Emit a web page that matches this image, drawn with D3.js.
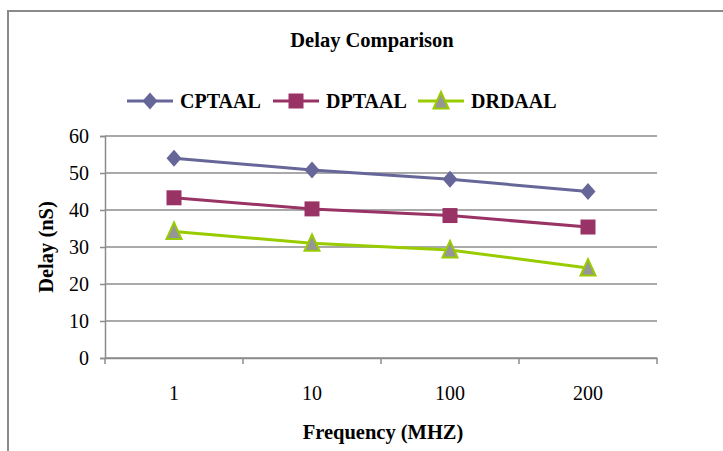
<!DOCTYPE html>
<html>
<head>
<meta charset="utf-8">
<script src="https://cdn.jsdelivr.net/npm/d3@7"></script>
<style>
  body { margin: 0; background: #fff; }
  text { font-family: "Liberation Serif", "Times New Roman", serif; fill: #000; }
</style>
</head>
<body>
<svg width="723" height="451" id="mainsvg"></svg>
<script>
const categories = ['1', '10', '100', '200'];
const cptaal = [54.0, 50.8, 48.3, 45.0];
const dptaal = [43.3, 40.3, 38.5, 35.4];
const drdaal = [34.2, 31.0, 29.2, 24.3];
const yTicks = [0, 10, 20, 30, 40, 50, 60];

const seriesNames = ['CPTAAL', 'DPTAAL', 'DRDAAL'];
const seriesValues = [cptaal, dptaal, drdaal];
const lineColors = ['#666699', '#993366', '#99CC00'];
const markerFills = ['#666699', '#993366', '#969696'];

// marker shapes, roughly like the excel ones
const diamond = { draw(ctx) { ctx.moveTo(0, -8.5); ctx.lineTo(7.5, 0); ctx.lineTo(0, 8.5); ctx.lineTo(-7.5, 0); ctx.closePath(); } };
const square = { draw(ctx) { ctx.rect(-7.5, -7.5, 15, 15); } };
const triangle = { draw(ctx) { ctx.moveTo(0, -9); ctx.lineTo(7.5, 7.5); ctx.lineTo(-7.5, 7.5); ctx.closePath(); } };
const markerTypes = [diamond, square, triangle];

const svg = d3.select('svg');
const width = +svg.attr('width');
const height = +svg.attr('height');

// outer chart border (cut off at right/bottom like the reference)
svg.append('rect')
  .attr('x', 8).attr('y', 11)
  .attr('width', 730).attr('height', 460)
  .attr('fill', 'none').attr('stroke', '#8a8a8a').attr('stroke-width', 2);

const margin = {left: 105, right: width - 657, top: 136, bottom: height - 358};
const x = d3.scaleBand().domain(categories).range([margin.left, width - margin.right]);
const y = d3.scaleLinear().domain([0, 60]).range([height - margin.bottom, margin.top]);

// gridlines
svg.append('g').selectAll('line').data(yTicks).enter().append('line')
  .attr('x1', margin.left).attr('x2', width - margin.right)
  .attr('y1', d => y(d)).attr('y2', d => y(d))
  .attr('stroke', '#8c8c8c').attr('stroke-width', 1.5);

// y axis
const yAxis = svg.append('g')
  .attr('transform', `translate(${margin.left},0)`)
  .call(d3.axisLeft(y).tickValues(yTicks).tickSize(5).tickPadding(11));
yAxis.select('.domain').attr('stroke', '#8c8c8c').attr('stroke-width', 1.5);
yAxis.selectAll('.tick line').attr('stroke', '#8c8c8c').attr('stroke-width', 1.5);
yAxis.selectAll('text').style('font-size', '20px').style('font-family', '"Liberation Serif", serif');

// x axis
const xAxis = svg.append('g')
  .attr('transform', `translate(0,${y(0)})`)
  .call(d3.axisBottom(x).tickSize(0).tickPadding(28));
xAxis.select('.domain').attr('stroke', '#8c8c8c').attr('stroke-width', 1.5);
xAxis.selectAll('text').style('font-size', '20px').style('font-family', '"Liberation Serif", serif');
// category boundary ticks
const bounds = categories.map(c => x(c)).concat([x.range()[1]]);
svg.append('g').selectAll('line').data(bounds).enter().append('line')
  .attr('x1', d => d).attr('x2', d => d)
  .attr('y1', y(0)).attr('y2', y(0) + 6)
  .attr('stroke', '#8c8c8c').attr('stroke-width', 1.5);

// series
const line = d3.line()
  .x((d, i) => x(categories[i]) + x.bandwidth() / 2)
  .y(d => y(d));

seriesValues.forEach((vals, s) => {
  svg.append('path').datum(vals)
    .attr('d', line)
    .attr('fill', 'none')
    .attr('stroke', lineColors[s])
    .attr('stroke-width', 3);
  svg.append('g').selectAll('path').data(vals).enter().append('path')
    .attr('d', d3.symbol().type(markerTypes[s]))
    .attr('transform', (d, i) => `translate(${x(categories[i]) + x.bandwidth() / 2},${y(d)})`)
    .attr('fill', markerFills[s])
    .attr('stroke', s === 2 ? lineColors[s] : 'none')
    .attr('stroke-width', 2);
});

// title
svg.append('text')
  .attr('x', 372).attr('y', 47)
  .attr('text-anchor', 'middle')
  .style('font-size', '20.5px').style('font-weight', 'bold')
  .text('Delay Comparison');

// legend
const legendX = [127, 273, 418];
const legend = svg.append('g');
seriesNames.forEach((name, s) => {
  const lx = legendX[s];
  const ly = 101;
  legend.append('line')
    .attr('x1', lx).attr('x2', lx + 46)
    .attr('y1', ly).attr('y2', ly)
    .attr('stroke', lineColors[s]).attr('stroke-width', 3);
  legend.append('path')
    .attr('d', d3.symbol().type(markerTypes[s]))
    .attr('transform', `translate(${lx + 23},${ly})`)
    .attr('fill', markerFills[s])
    .attr('stroke', s === 2 ? lineColors[s] : 'none')
    .attr('stroke-width', 2);
  legend.append('text')
    .attr('x', lx + 53).attr('y', ly + 7)
    .style('font-size', '20px').style('font-weight', 'bold')
    .text(name);
});

// axis titles
svg.append('text')
  .attr('transform', `translate(53,${(y(0) + y(60)) / 2}) rotate(-90)`)
  .attr('text-anchor', 'middle')
  .style('font-size', '20.5px').style('font-weight', 'bold')
  .text('Delay (nS)');

svg.append('text')
  .attr('x', 383).attr('y', 439)
  .attr('text-anchor', 'middle')
  .style('font-size', '20.5px').style('font-weight', 'bold')
  .text('Frequency (MHZ)');
</script>
</body>
</html>
